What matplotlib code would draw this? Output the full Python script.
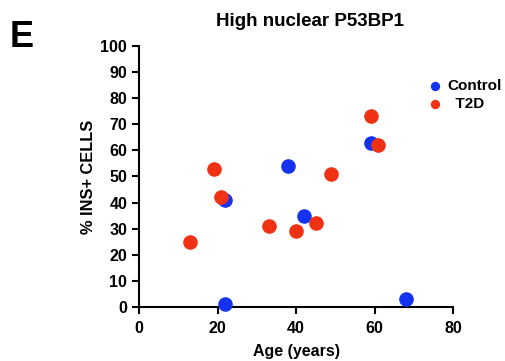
import matplotlib
matplotlib.use('Agg')
import matplotlib.pyplot as plt

plt.rcParams['font.family'] = ['Liberation Sans', 'DejaVu Sans']
plt.rcParams['font.weight'] = 'bold'

# ages / % INS+ cells with high nuclear P53BP1
control_age = [22, 22, 38, 42, 59, 68]
control_pct = [41, 1, 54, 35, 63, 3]
t2d_age = [13, 19, 21, 33, 40, 45, 49, 59, 61]
t2d_pct = [25, 53, 42, 31, 29, 32, 51, 73, 62]

xticks = [0, 20, 40, 60, 80]
yticks = list(range(0, 101, 10))

fig = plt.figure(figsize=(5.06, 3.61), dpi=100)
ax = fig.add_axes([0.2747, 0.1496, 0.6206, 0.723])

ax.scatter(control_age, control_pct, s=90, color='#1433f0', label='Control', zorder=3, clip_on=False)
ax.scatter(t2d_age, t2d_pct, s=90, color='#f03214', label='  T2D', zorder=3, clip_on=False)

ax.set_xlim(0, 80)
ax.set_ylim(0, 100)
ax.set_xticks(xticks)
ax.set_yticks(yticks)
for s in ['top', 'right']:
    ax.spines[s].set_visible(False)
for s in ['left', 'bottom']:
    ax.spines[s].set_linewidth(1.5)
ax.tick_params(direction='out', length=5, width=1.5, labelsize=11.5)
ax.tick_params(axis='x', pad=5)
for lbl in ax.get_xticklabels() + ax.get_yticklabels():
    lbl.set_fontweight('bold')

ax.set_xlabel('Age (years)', fontsize=11.5, fontweight='bold', labelpad=6)
ax.set_ylabel('% INS+ CELLS', fontsize=11.8, fontweight='bold', labelpad=3)
fig.text(0.613, 0.94, 'High nuclear P53BP1', ha='center', va='center', fontsize=13.5, fontweight='bold')
fig.text(0.0425, 0.895, 'E', ha='center', va='center', fontsize=26, fontweight='bold')

leg = fig.legend(loc='upper left', bbox_to_anchor=(0.845, 0.78), frameon=False,
                 fontsize=11, handlelength=1.0, handletextpad=0.3, labelspacing=0.25,
                 markerscale=0.6, borderpad=0, borderaxespad=0)

fig.savefig('out.png', dpi=100)
